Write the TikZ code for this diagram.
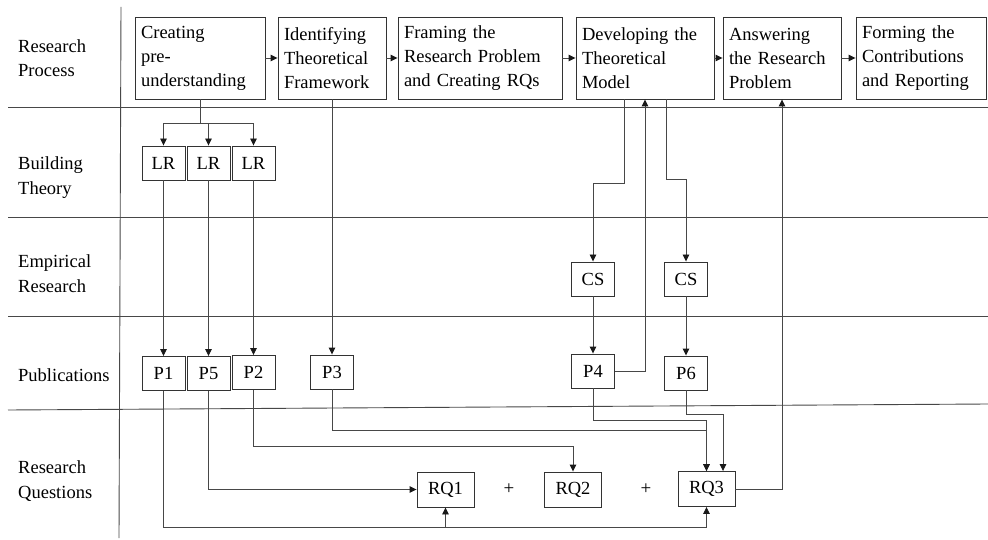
\documentclass[tikz,border=0pt]{standalone}
\usepackage{fontspec}
\setmainfont{Liberation Serif}
\usetikzlibrary{arrows.meta}
\begin{document}
\begin{tikzpicture}[x=1pt,y=-1pt,
  every node/.style={font=\fontsize{18.5}{24}\selectfont},
  stage/.style={draw=black!80, line width=0.9pt, minimum height=82pt,
    inner xsep=6pt, inner ysep=0pt, align=left},
  sbox/.style={draw=black!80, line width=0.9pt, minimum width=43pt,
    minimum height=34pt, inner sep=0pt},
  qbox/.style={draw=black!80, line width=0.9pt, minimum width=57pt,
    minimum height=35pt, inner sep=0pt},
  lab/.style={anchor=base west, inner sep=0pt},
  flow/.style={draw=black!72, line width=0.9pt,
    -{Triangle[length=7pt,width=6.5pt,color=black!90]}},
  rule/.style={draw=black!72, line width=0.9pt},
  plus/.style={font=\fontsize{19}{20}\selectfont, inner sep=0pt}]
\useasboundingbox (0,0) rectangle (988,540);

% lane separators
\draw[rule] (8,107) -- (988,107);
\draw[rule] (8,217) -- (988,217);
\draw[rule] (8,316) -- (988,316);
\draw[rule] (8,410) -- (988,404);
\draw[rule] (121,7) -- (119,538);

% lane titles
\node[lab] (t1a) at (18,53) {Research};
\node[lab] (t1b) at (18,77) {Process};
\node[lab] (t2a) at (18,170) {Building};
\node[lab] (t2b) at (18,195) {Theory};
\node[lab] (t3a) at (18,268) {Empirical};
\node[lab] (t3b) at (18,292) {Research};
\node[lab] (t4a) at (18,381) {Publications};
\node[lab] (t5a) at (18,473) {Research};
\node[lab] (t5b) at (18,498) {Questions};

% research process stages
\node[stage, text width=118pt] (B1) at (200,58) {Creating\\pre-\\understanding};
\node[stage, text width=96pt]  (B2) at (332,58) {Identifying\\Theoretical\\Framework};
\node[stage, text width=152pt] (B3) at (480,58) {Framing the\\Research Problem\\and Creating RQs};
\node[stage, text width=126pt] (B4) at (645,58) {Developing the\\Theoretical\\Model};
\node[stage, text width=106pt] (B5) at (782,58) {Answering\\the Research\\Problem};
\node[stage, text width=118pt] (B6) at (921,58) {Forming the\\Contributions\\and Reporting};

% literature reviews
\node[sbox] (LR1) at (163.5,163) {LR};
\node[sbox] (LR2) at (208.5,163) {LR};
\node[sbox] (LR3) at (253.5,163) {LR};

% case studies
\node[sbox] (CS1) at (593,279) {CS};
\node[sbox] (CS2) at (686,279) {CS};

% publications
\node[sbox] (P1) at (163.5,373.5) {P1};
\node[sbox] (P5) at (208.5,373.5) {P5};
\node[sbox] (P2) at (253.5,372.5) {P2};
\node[sbox] (P3) at (332,372) {P3};
\node[sbox] (P4) at (593,371) {P4};
\node[sbox] (P6) at (686,373) {P6};

% research questions
\node[qbox] (RQ1) at (445.5,489.5) {RQ1};
\node[qbox] (RQ2) at (573,489.5) {RQ2};
\node[qbox] (RQ3) at (706.5,489) {RQ3};
\node[plus] (plus1) at (509,489) {+};
\node[plus] (plus2) at (646,489) {+};

% process flow
\draw[flow] (B1.east) -- (B2.west);
\draw[flow] (B2.east) -- (B3.west);
\draw[flow] (B3.east) -- (B4.west);
\draw[flow] (B4.east) -- (B5.west);
\draw[flow] (B5.east) -- (B6.west);

% pre-understanding into literature reviews
\coordinate (fork) at (200,123);
\draw[rule] (B1.south) -- (fork);
\draw[flow] (fork) -| (LR1.north);
\draw[flow] (fork) -- (LR2.north |- fork) -- (LR2.north);
\draw[flow] (fork) -| (LR3.north);

% into publications
\draw[flow] (LR1.south) -- (P1.north);
\draw[flow] (LR2.south) -- (P5.north);
\draw[flow] (LR3.south) -- (P2.north);
\draw[flow] (B2.south) -- (P3.north);

% theoretical model and case studies
\draw[flow] ([xshift=-21pt]B4.south) |- ([yshift=78pt]CS1.north) -- (CS1.north);
\draw[flow] ([xshift=21pt]B4.south) |- ([yshift=82pt]CS2.north) -- (CS2.north);
\draw[flow] (CS1.south) -- (P4.north);
\draw[flow] (CS2.south) -- (P6.north);
\draw[flow] (P4.east) -| (B4.south);

% publications into research questions
\draw[flow] (P5.south) |- (RQ1.west);
\coordinate (low) at ([yshift=-20pt]RQ1.south);
\draw[flow] (P1.south) |- (low) -- (RQ1.south);
\draw[flow] (low) -| (RQ3.south);
\draw[flow] (P2.south) |- ([yshift=25pt]RQ2.north) -- (RQ2.north);
\draw[flow] (P3.south) |- ([yshift=41pt]RQ3.north) -- (RQ3.north);
\draw[flow] (P4.south) |- ([yshift=51pt]RQ3.north) -- (RQ3.north);
\draw[flow] (P6.south) |- ([xshift=16.5pt,yshift=57pt]RQ3.north) -- ([xshift=16.5pt]RQ3.north);

% answers feed back to the research problem
\draw[flow] (RQ3.east) -| (B5.south);
\end{tikzpicture}
\end{document}
